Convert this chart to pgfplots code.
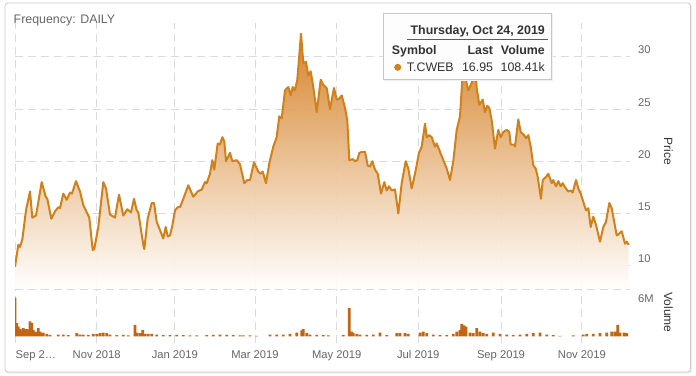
\documentclass[border=0pt]{standalone}
\usepackage{pgfplots}
\usepackage{pgfplotstable}
\pgfplotsset{compat=1.18}
\usepackage{fontspec}
\setmainfont{Liberation Sans}
\definecolor{lineor}{RGB}{210,128,26}
\definecolor{fillor}{RGB}{212,124,30}
\definecolor{volor}{RGB}{195,100,16}
\definecolor{gridc}{RGB}{218,218,218}
\definecolor{tickc}{RGB}{102,102,102}
\definecolor{darkc}{RGB}{51,51,51}

% x = horizontal position along the time axis, price in CAD
\pgfplotstableread{
x v
15 9.9
18.3 12.0
20 11.8
22.3 12.5
26 15.3
30 17.1
32.3 14.6
36 14.8
41.7 18.0
45.7 16.6
47.3 16.4
51.3 14.5
55 15.2
58.3 15.6
60 15.5
63.3 16.9
66.7 16.3
70 17.0
72 16.9
76 18.1
80 17.1
83.3 15.8
89.3 14.6
92.7 11.5
94.3 11.6
98.3 13.7
103.3 18.0
106 17.4
110 14.9
115 14.6
119 16.8
123.3 14.8
127.3 15.4
131 15.1
134 16.4
136.7 15.3
138.3 15.1
143.3 12.0
144.3 11.6
147.7 14.5
151.7 16.0
154 16.0
156.7 14.2
160 13.4
163.3 12.6
165.7 13.7
167.7 12.8
170 12.9
172.3 13.8
175 15.3
177.7 15.6
180 15.6
183.3 16.4
188.3 17.7
193.3 16.6
197.7 17.1
201.7 17.3
205 18.0
206.7 17.9
210 18.8
212.3 20.1
214.3 19.2
217.7 21.7
220 21.6
222.3 22.3
224.3 21.9
226 20.0
230 20.8
232.3 20.0
236.7 20.1
240 19.7
244.3 17.9
247.3 18.2
250 18.2
254 19.9
258.3 19.0
260.7 18.8
262.7 19.0
266 17.9
269.3 19.8
273.3 21.4
276.7 22.3
279.3 24.3
281.7 24.1
285 26.8
288.3 27.1
290.7 26.3
292.7 27.1
295 26.8
297.3 27.8
301 32.2
303.3 29.4
306 29.5
308.3 28.2
310.7 28.6
313.3 27.1
316.7 24.7
320.7 27.8
323.3 27.3
326.7 27.0
330 25.0
334 27.0
336.7 25.9
339.3 26.0
341.7 26.3
345 25.1
347.3 23.9
349.3 20.1
352.7 20.2
355 20.0
357.3 20.1
359.3 20.8
362.3 20.9
365 20.9
367.7 19.6
370 19.5
372.3 20.0
375 19.2
377.7 18.8
381 16.9
384.3 18.0
386.7 17.2
389 17.6
391.7 17.2
395 17.3
398.3 15.0
401.7 17.9
405.7 20.0
408.3 19.3
411.7 17.4
415 18.8
419 20.8
421.7 21.4
425 23.6
426.7 22.3
429 22.5
431.7 22.3
435 21.4
436.7 21.7
440 20.9
443.3 20.1
446.7 19.3
450 18.2
453.3 20.0
456.7 23.0
460 24.3
462.3 27.8
464.3 29.6
466.5 27.5
468.3 26.8
471.7 27.5
474.5 29.8
476.7 27.0
479.3 25.4
482.7 25.9
485 24.7
487.3 25.3
489.3 25.1
491.7 23.9
495 21.2
498.3 23.0
500.7 22.3
503.3 22.8
506.7 23.0
509.3 22.8
510.7 21.6
514 21.6
515 21.4
518.3 24.0
520.7 22.8
524 22.5
526 22.2
528.3 22.5
530.7 21.4
533.3 19.6
535.7 19.3
537.7 18.5
541 16.4
542.7 18.2
546 18.5
548.3 18.8
551.7 17.9
553.3 18.2
556 17.6
558.3 18.1
560.7 17.6
562.7 17.9
565 17.5
568.3 17.1
570.7 17.2
572.7 17.0
576 18.2
578.3 17.4
580.7 16.9
583.3 16.1
586 15.3
588.3 15.5
590.7 13.7
593.3 14.7
596 13.9
600 12.3
603.3 13.7
606 14.2
609.3 16.0
611.7 15.5
616.7 12.9
618.3 13.0
621.7 13.3
625 12.1
626.7 12.3
628.7 12.0
}\pricetable

% volume in millions of shares
\pgfplotstableread{
x m
15 4.9
16.7 1.7
18.3 1.26
20 0.93
21.7 0.76
23.3 1.05
25 0.93
26.7 0.93
28.3 0.84
30 1.9
31.7 1.68
33.3 0.84
35 0.63
36.7 0.5
38.3 1.05
40 0.63
41.7 0.42
43.3 0.5
46.7 0.34
50 0.21
58.3 0.25
63.3 0.25
68.3 0.17
76.7 0.42
80 0.25
83.3 0.25
88.3 0.21
93.3 0.34
96.7 0.34
100 0.42
103.3 0.5
106.7 0.42
110 0.25
116.7 0.17
123.3 0.21
128.3 0.13
135 1.47
136.7 0.5
140 0.42
142.7 0.84
145 0.34
148.3 0.34
151.7 0.34
156.7 0.25
163.3 0.17
170 0.17
176.7 0.21
183.3 0.17
190 0.13
196.7 0.13
206.7 0.17
213.3 0.21
220 0.25
226.7 0.21
233.3 0.17
240 0.13
243.3 0.13
250 0.13
256.7 0.08
270 0.25
276.7 0.25
283.3 0.25
290 0.34
296.7 0.5
301.7 0.76
303.3 0.93
306.7 0.42
310 0.25
316.7 0.21
323.3 0.17
328.3 0.13
343.3 0.17
349.3 3.58
351.7 0.63
353.3 0.42
356.7 0.34
360 0.25
366.7 0.21
373.3 0.25
380 0.5
386.7 0.17
396.7 0.42
400 0.42
405 0.42
408.3 0.34
420 0.5
423.3 0.63
426.7 0.42
433.3 0.25
440 0.17
446.7 0.17
453.3 0.34
456.7 0.63
460 0.84
461.7 1.6
464 1.39
466 1.26
470 0.5
473.3 0.42
476.7 1.05
480 0.63
483.3 0.42
486.7 0.34
493.3 0.5
500 0.34
506.7 0.25
513.3 0.17
520 0.25
526.7 0.34
533.3 0.42
540 0.5
546.7 0.25
553.3 0.17
560 0.08
573.3 0.13
583.3 0.25
586.7 0.34
593.3 0.34
600 0.42
606.7 0.5
611.7 0.63
615 0.63
617.7 1.47
620 0.5
624 0.5
626.7 0.42
}\voltable

\begin{document}
\begin{tikzpicture}[x=1pt,y=1pt]
\useasboundingbox (0,0) rectangle (696,375);
\draw[rounded corners=3pt, draw=black!8, line width=1.6pt] (5.8,2.2) rectangle (691.2,371.2);
\draw[rounded corners=3pt, draw=black!20, fill=white, line width=0.8pt] (5,3) rectangle (690.5,372);

\node[anchor=base west, inner sep=0pt, text=tickc, font=\fontsize{12.4}{14}\selectfont] at (13.5,351.6) {Frequency: DAILY};

% ---- price pane
\begin{axis}[
  name=price,
  at={(15pt,86pt)}, anchor=south west,
  scale only axis, width=615pt, height=266pt,
  xmin=15, xmax=630, ymin=7.77, ymax=33.23,
  axis line style={draw=none},
  xtick={15.7,96.7,174.8,255,336.7,418.3,501,581.9}, xticklabels={},
  ytick={10,15,20,25,30},
  yticklabel pos=right,
  major tick length=0pt,
  grid=major,
  major grid style={gridc, dash pattern=on 8pt off 5pt, line width=0.9pt},
  yticklabel style={anchor=base west, inner sep=0pt, xshift=8pt, yshift=2.8pt,
     font=\fontsize{11.2}{13}\selectfont, text=tickc},
  /pgf/number format/assume math mode=true,
]
\addplot[draw=none, top color=fillor, bottom color=white, fill opacity=0.93]
  table[x=x, y=v] {\pricetable} -- (axis cs:628.7,7.77) -- (axis cs:15,7.77) -- cycle;
\addplot[lineor, line width=2pt, line join=round] table[x=x, y=v] {\pricetable};
\end{axis}

% ---- volume pane
\begin{axis}[
  at={(price.south west)}, anchor=north west,
  scale only axis, width=615pt, height=54pt,
  xmin=15, xmax=630, ymin=-0.821, ymax=6,
  axis line style={draw=none},
  xtick={15.7,96.7,174.8,255,336.7,418.3,501,581.9},
  xticklabels={\makebox[0pt][l]{Sep 2…}, Nov 2018, Jan 2019, Mar 2019, May 2019, Jul 2019, Sep 2019, Nov 2019},
  ytick={6}, yticklabels={6M},
  yticklabel pos=right,
  major tick length=0pt,
  grid=major,
  major grid style={gridc, dash pattern=on 8pt off 5pt, line width=0.9pt},
  xticklabel style={anchor=base, inner sep=0pt, yshift=-16pt,
     font=\fontsize{11.2}{13}\selectfont, text=tickc},
  yticklabel style={anchor=base west, inner sep=0pt, xshift=8pt, yshift=-13pt,
     font=\fontsize{11.2}{13}\selectfont, text=tickc},
]
\addplot[ybar, bar width=2.8pt, fill=volor, draw=none] table[x=x, y=m] {\voltable};
\end{axis}

\node[rotate=-90, text=darkc, font=\fontsize{12}{14}\selectfont] at (668.3,223.5) {Price};
\node[rotate=-90, text=darkc, font=\fontsize{12}{14}\selectfont] at (668.3,62.5) {Volume};

% ---- tooltip
\fill[black!6] (384.3,294.3) rectangle (552.7,361);
\draw[fill=white, fill opacity=0.93, draw=black!22, line width=0.8pt] (383.3,295.3) rectangle (551.7,362);
\begin{scope}[every node/.style={inner sep=0pt, font=\fontsize{12.4}{14}\selectfont, text=darkc}]
\node[anchor=base east, font=\fontsize{12.4}{14}\selectfont\bfseries] at (545,340.8) {Thursday, Oct 24, 2019};
\draw[darkc!80, line width=0.8pt] (406.7,336) -- (548.3,336);
\node[anchor=base west, font=\fontsize{12.4}{14}\selectfont\bfseries] at (391.7,320.8) {Symbol};
\node[anchor=base east, font=\fontsize{12.4}{14}\selectfont\bfseries] at (493.3,320.8) {Last};
\node[anchor=base east, font=\fontsize{12.4}{14}\selectfont\bfseries] at (545,320.8) {Volume};
\node[circle, fill=lineor, minimum size=7pt] at (397.7,307.7) {};
\node[anchor=base west] at (406.7,303.2) {T.CWEB};
\node[anchor=base east] at (493.3,303.2) {16.95};
\node[anchor=base east] at (545,303.2) {108.41k};
\end{scope}
\end{tikzpicture}
\end{document}
